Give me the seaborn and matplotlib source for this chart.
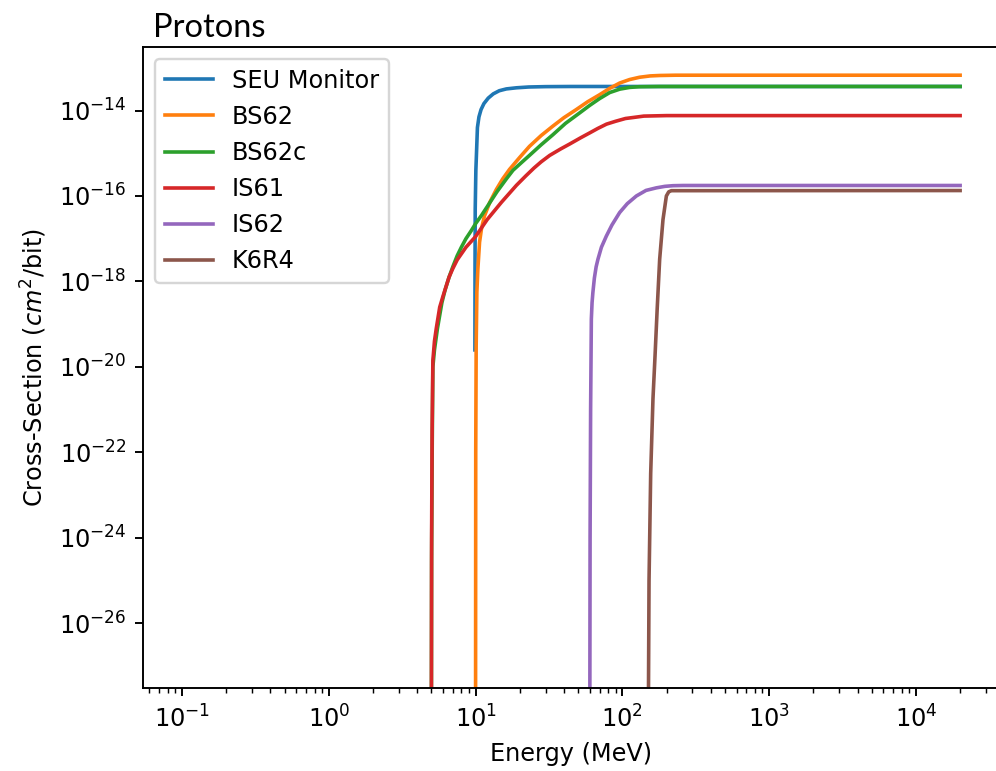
import pandas as pd
import seaborn as sns
from matplotlib import pyplot as plt
from matplotlib.ticker import NullLocator

# series (energy in MeV, cross-section in cm^2/bit)
devices = ["SEU Monitor", "BS62", "BS62c", "IS61", "IS62", "K6R4"]

seu_energy = [9.9, 9.92, 9.95, 10.05, 10.15, 10.3, 10.55, 10.9, 11.4, 12.2,
              13.2, 14.5, 16.2, 19.0, 23.0, 30.0, 45.0, 2e4]
seu_xs = [2.5e-20, 2.5e-18, 5.0e-17, 4.0e-16, 1.0e-15, 4.0e-15, 7.1e-15,
          1.05e-14, 1.45e-14, 1.95e-14, 2.45e-14, 2.9e-14, 3.2e-14, 3.4e-14,
          3.55e-14, 3.62e-14, 3.65e-14, 3.65e-14]

bs62_energy = [10.0, 10.03, 10.1, 10.21, 10.37, 10.65, 11.0, 11.5, 12.5, 13.84,
               15.3, 17.05, 20.0, 23.3, 28.0, 33.6, 40.0, 48.5, 58.0, 70.0,
               82.0, 96.0, 112.0, 131.0, 155.0, 180.0, 230.0, 2e4]
bs62_xs = [1e-29, 1e-22, 3.2e-20, 5.6e-19, 1.95e-18, 8.3e-18, 1.8e-17, 3.4e-17,
           7.1e-17, 1.41e-16, 2.5e-16, 4.2e-16, 8.0e-16, 1.45e-15, 2.6e-15,
           4.3e-15, 6.8e-15, 1.05e-14, 1.6e-14, 2.34e-14, 3.3e-14, 4.4e-14,
           5.3e-14, 6.0e-14, 6.45e-14, 6.6e-14, 6.7e-14, 6.7e-14]

bs62c_energy = [5.0, 5.02, 5.07, 5.12, 5.25, 5.5, 5.9, 6.2, 6.6, 7.0, 7.5,
                8.0, 8.6, 9.3, 10.0, 11.0, 12.0, 14.0, 16.2, 18.0, 20.5, 23.3,
                28.0, 33.6, 41.0, 51.0, 60.0, 70.0, 82.0, 96.0, 112.0, 130.0,
                180.0, 2e4]
bs62c_xs = [1e-29, 3.2e-25, 1.6e-22, 1.0e-20, 2.5e-20, 7.9e-20, 3.2e-19,
            6.3e-19, 1.26e-18, 2.2e-18, 4.0e-18, 6.3e-18, 1.0e-17, 1.5e-17,
            2.24e-17, 3.55e-17, 5.6e-17, 1.26e-16, 2.5e-16, 4.0e-16, 6.0e-16,
            8.9e-16, 1.58e-15, 2.7e-15, 5.0e-15, 8.7e-15, 1.32e-14, 1.9e-14,
            2.63e-14, 3.16e-14, 3.47e-14, 3.6e-14, 3.65e-14, 3.65e-14]

is61_energy = [5.0, 5.02, 5.06, 5.12, 5.25, 5.4, 5.7, 6.0, 6.6, 7.0, 7.5, 8.6,
               10.0, 12.0, 15.0, 19.0, 22.0, 25.0, 28.0, 32.0, 38.0, 44.0,
               52.0, 60.0, 68.0, 78.0, 90.0, 105.0, 120.0, 140.0, 200.0, 2e4]
is61_xs = [1e-29, 1e-24, 3.2e-22, 1.41e-20, 4.0e-20, 7.9e-20, 2.5e-19,
           4.5e-19, 1.26e-18, 2.0e-18, 3.2e-18, 6.3e-18, 1.12e-17, 2.8e-17,
           7.1e-17, 1.78e-16, 2.95e-16, 4.5e-16, 6.3e-16, 8.9e-16, 1.26e-15,
           1.66e-15, 2.3e-15, 3.0e-15, 3.8e-15, 4.8e-15, 5.6e-15, 6.5e-15,
           6.9e-15, 7.4e-15, 7.6e-15, 7.6e-15]

is62_energy = [60.0, 60.3, 60.8, 61.5, 62.2, 63.0, 64.5, 66.3, 68.2, 72.0,
               77.8, 85.0, 95.9, 108.0, 124.6, 145.0, 170.6, 195.0, 221.0,
               260.0, 2e4]
is62_xs = [1e-29, 1e-24, 1e-21, 1.32e-19, 3.2e-19, 5.5e-19, 1.2e-18, 2.2e-18,
           3.3e-18, 6.3e-18, 1.15e-17, 2.1e-17, 4.1e-17, 6.6e-17, 1.0e-16,
           1.35e-16, 1.55e-16, 1.68e-16, 1.74e-16, 1.76e-16, 1.76e-16]

k6r4_energy = [150.0, 152.0, 156.0, 161.7, 167.0, 172.7, 179.6, 189.2, 199.5,
               207.0, 215.8, 2e4]
k6r4_xs = [1e-29, 1e-25, 3.2e-23, 1.8e-21, 1.8e-20, 2.24e-19, 3.3e-18, 2.8e-17,
           1.0e-16, 1.25e-16, 1.33e-16, 1.34e-16]

y_ticks = [1e-26, 1e-24, 1e-22, 1e-20, 1e-18, 1e-16, 1e-14]

energies = [seu_energy, bs62_energy, bs62c_energy, is61_energy, is62_energy, k6r4_energy]
sections = [seu_xs, bs62_xs, bs62c_xs, is61_xs, is62_xs, k6r4_xs]

frames = []
for name, e, s in zip(devices, energies, sections):
    frames.append(pd.DataFrame({"energy": e, "xs": s, "device": name}))
df = pd.concat(frames, ignore_index=True)

dpi = 173
fig = plt.figure(figsize=(996 / dpi, 771 / dpi), dpi=dpi)
ax = fig.add_axes([0.1436, 0.1073, 0.8594, 0.8314])
ax.set_xscale("log")
ax.set_yscale("log")

sns.lineplot(data=df, x="energy", y="xs", hue="device", hue_order=devices,
             palette=sns.color_palette("tab10", len(devices)),
             estimator=None, ax=ax)

ax.set_xlim(0.0543, 3.68e4)
ax.set_ylim(3.02e-28, 3.02e-13)
ax.set_yticks(y_ticks)
ax.yaxis.set_minor_locator(NullLocator())
ax.set_xlabel("Energy (MeV)")
ax.set_ylabel(r"Cross-Section ($cm^2$/bit)")
sns.move_legend(ax, "upper left", title=None)

fig.text(0.1536, 0.9524, "Protons", family="Lato", fontsize=13.6, va="baseline")

fig.savefig("out.png", dpi=dpi)
